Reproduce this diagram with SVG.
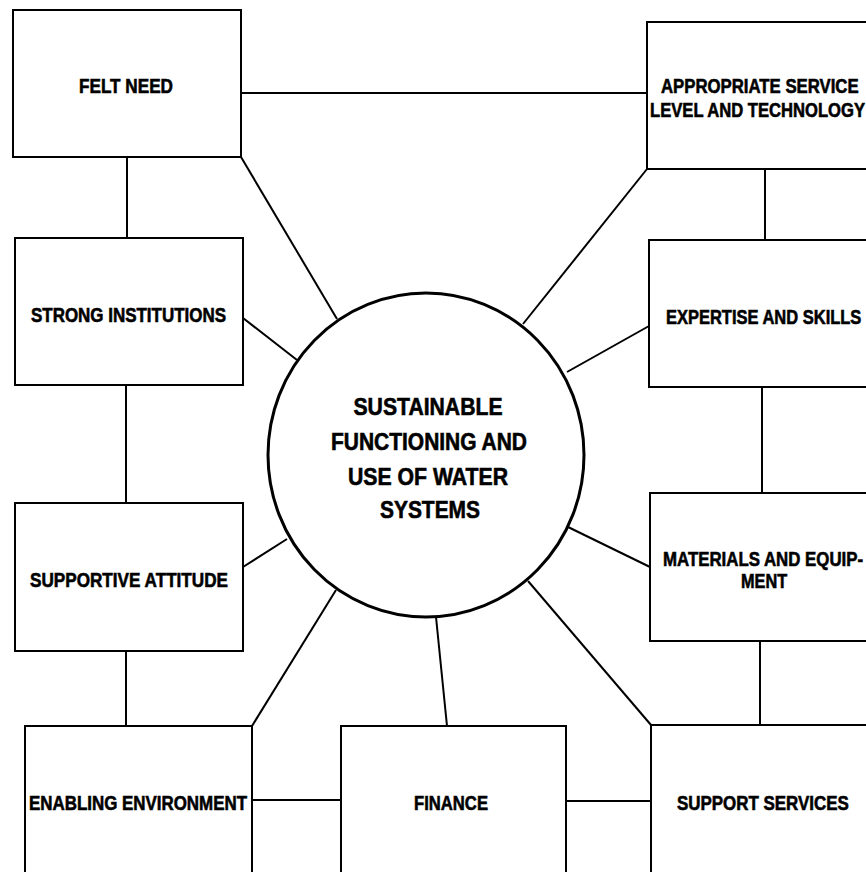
<svg xmlns="http://www.w3.org/2000/svg" width="866" height="872" viewBox="0 0 866 872">
<style>
.box{fill:#fff;stroke:#000;stroke-width:2}
.hub{fill:#fff;stroke:#000;stroke-width:3}
.ln{stroke:#000;stroke-width:2;fill:none}
text{font-family:"Liberation Sans",Arial,sans-serif;font-weight:bold;fill:#000;stroke:#000;stroke-width:0.6;font-size:20px}
.big{font-size:24px}
</style>
<rect width="866" height="872" fill="#fff"/>
<g id="connectors">
<line class="ln" x1="241" y1="93" x2="647" y2="93"/>
<line class="ln" x1="127" y1="157" x2="127" y2="238"/>
<line class="ln" x1="126" y1="385" x2="126" y2="503"/>
<line class="ln" x1="126" y1="651" x2="126" y2="726"/>
<line class="ln" x1="252" y1="800" x2="341" y2="800"/>
<line class="ln" x1="566" y1="801" x2="651" y2="801"/>
<line class="ln" x1="765" y1="169" x2="765" y2="240"/>
<line class="ln" x1="762" y1="387" x2="762" y2="493"/>
<line class="ln" x1="760" y1="641" x2="760" y2="725"/>
<line class="ln" x1="241" y1="157" x2="337" y2="319"/>
<line class="ln" x1="243" y1="318" x2="297" y2="360"/>
<line class="ln" x1="243" y1="567" x2="287" y2="539"/>
<line class="ln" x1="252" y1="726" x2="336" y2="590"/>
<line class="ln" x1="436" y1="617" x2="447" y2="726"/>
<line class="ln" x1="528" y1="581" x2="651" y2="725"/>
<line class="ln" x1="568" y1="527" x2="650" y2="567"/>
<line class="ln" x1="567" y1="372" x2="649" y2="326"/>
<line class="ln" x1="523" y1="324" x2="647" y2="169"/>
</g>
<g id="hub">
<ellipse class="hub" cx="426" cy="455" rx="158" ry="162"/>
<text class="big" x="428" y="415" text-anchor="middle" textLength="149" lengthAdjust="spacingAndGlyphs">SUSTAINABLE</text>
<text class="big" x="429" y="450" text-anchor="middle" textLength="196" lengthAdjust="spacingAndGlyphs">FUNCTIONING AND</text>
<text class="big" x="428" y="485" text-anchor="middle" textLength="160" lengthAdjust="spacingAndGlyphs">USE OF WATER</text>
<text class="big" x="430" y="518" text-anchor="middle" textLength="100" lengthAdjust="spacingAndGlyphs">SYSTEMS</text>
</g>
<g id="felt-need">
<rect class="box" x="13" y="10" width="228" height="147"/>
<text x="79" y="93" textLength="94" lengthAdjust="spacingAndGlyphs">FELT NEED</text>
</g>
<g id="strong-institutions">
<rect class="box" x="15" y="238" width="228" height="147"/>
<text x="31" y="322" textLength="195" lengthAdjust="spacingAndGlyphs">STRONG INSTITUTIONS</text>
</g>
<g id="supportive-attitude">
<rect class="box" x="15" y="503" width="228" height="148"/>
<text x="30" y="587" textLength="198" lengthAdjust="spacingAndGlyphs">SUPPORTIVE ATTITUDE</text>
</g>
<g id="enabling-environment">
<path class="box" d="M25,872 V726 H252 V872"/>
<text x="29" y="810" textLength="218" lengthAdjust="spacingAndGlyphs">ENABLING ENVIRONMENT</text>
</g>
<g id="finance">
<path class="box" d="M341,872 V726 H566 V872"/>
<text x="414" y="810" textLength="74" lengthAdjust="spacingAndGlyphs">FINANCE</text>
</g>
<g id="support-services">
<path class="box" d="M866,725 H651 V872"/>
<text transform="translate(677,810) scale(0.83,1)" x="0" y="0" textLength="207" lengthAdjust="spacingAndGlyphs">SUPPORT SERVICES</text>
</g>
<g id="materials-equipment">
<path class="box" d="M866,493 H650 V641 H866"/>
<text transform="translate(663,566) scale(0.82,1)" x="0" y="0" textLength="244" lengthAdjust="spacingAndGlyphs">MATERIALS AND EQUIP-</text>
<text transform="translate(741,588) scale(0.81,1)" x="0" y="0" textLength="57" lengthAdjust="spacingAndGlyphs">MENT</text>
</g>
<g id="expertise-skills">
<path class="box" d="M866,240 H649 V387 H866"/>
<text transform="translate(666,324) scale(0.814,1)" x="0" y="0" textLength="240" lengthAdjust="spacingAndGlyphs">EXPERTISE AND SKILLS</text>
</g>
<g id="appropriate-service">
<path class="box" d="M866,22 H647 V169 H866"/>
<text transform="translate(661,93) scale(0.82,1)" x="0" y="0" textLength="241" lengthAdjust="spacingAndGlyphs">APPROPRIATE SERVICE</text>
<text transform="translate(650,117) scale(0.827,1)" x="0" y="0" textLength="260" lengthAdjust="spacingAndGlyphs">LEVEL AND TECHNOLOGY</text>
</g>
</svg>
